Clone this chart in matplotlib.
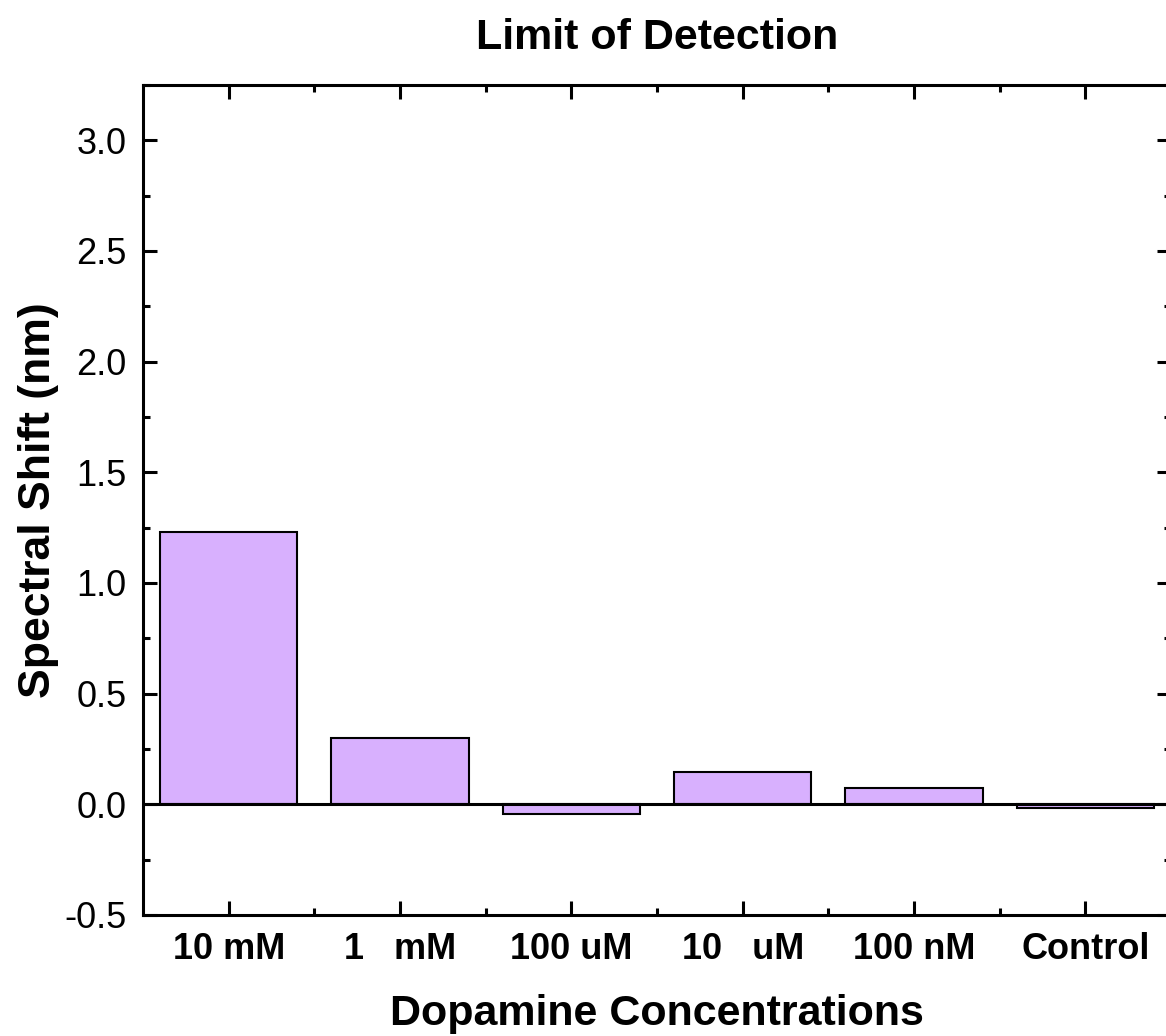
import matplotlib
matplotlib.use("Agg")
import matplotlib.pyplot as plt
from matplotlib.ticker import MultipleLocator, FixedLocator

plt.rcParams['font.family'] = ['Liberation Sans', 'DejaVu Sans']
plt.rcParams['axes.unicode_minus'] = False

concentrations = ["10 mM", "1   mM", "100 uM", "10   uM", "100 nM", "Control"]
shift_nm = [1.23, 0.30, -0.045, 0.145, 0.073, -0.015]

bar_color = '#D8B0FE'

fig = plt.figure(figsize=(11.66, 10.36), dpi=100)
ax = fig.add_axes([143/1166, 121/1036, 1028/1166, 830/1036])

pos = list(range(1, len(concentrations) + 1))
ax.bar(pos, shift_nm, width=0.8, color=bar_color, edgecolor='black', linewidth=1.5, zorder=2)
ax.axhline(0, color='black', linewidth=2.2, zorder=3)

ax.set_xlim(0.5, len(concentrations) + 0.5)
ax.set_ylim(-0.5, 3.25)

ax.xaxis.set_major_locator(FixedLocator(pos))
ax.xaxis.set_minor_locator(FixedLocator([p + 0.5 for p in pos[:-1]]))
ax.set_xticklabels(concentrations, fontweight='bold')
ax.yaxis.set_major_locator(MultipleLocator(0.5))
ax.yaxis.set_minor_locator(MultipleLocator(0.25))

for s in ax.spines.values():
    s.set_linewidth(2.2)

ax.tick_params(which='both', direction='in', top=True, right=True, width=2.2)
ax.tick_params(which='major', length=10, labelsize=26)
ax.tick_params(axis='x', which='major', pad=12)
ax.tick_params(axis='y', which='major', pad=12)
ax.tick_params(which='minor', length=5)

ax.set_title("Limit of Detection", fontsize=31, fontweight='bold', pad=26)
ax.set_xlabel("Dopamine Concentrations", fontsize=31, fontweight='bold', labelpad=20)
ax.set_ylabel("Spectral Shift (nm)", fontsize=32, fontweight='bold', labelpad=4)

fig.savefig("out.png", dpi=100)
